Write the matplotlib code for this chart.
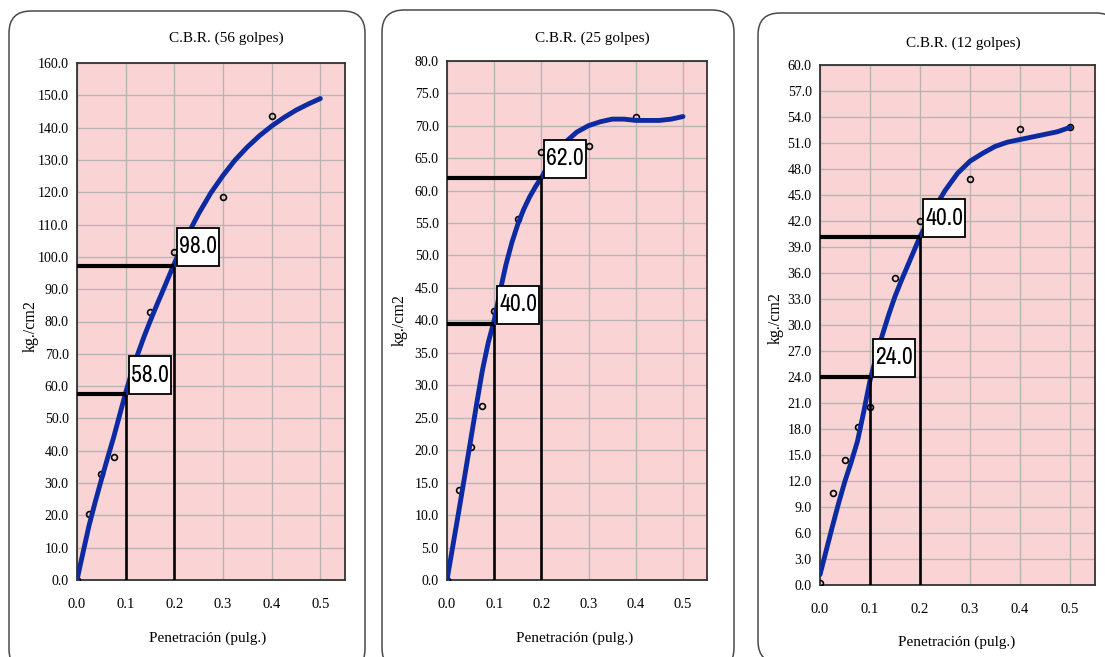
import matplotlib
matplotlib.use("Agg")
import matplotlib.pyplot as plt
from matplotlib.patches import FancyBboxPatch
from matplotlib.path import Path

# ---------------- data ----------------
titles = ["C.B.R. (56 golpes)", "C.B.R. (25 golpes)", "C.B.R. (12 golpes)"]
x_label = "Penetración (pulg.)"
y_label = "kg./cm2"

x_ticks = [0.0, 0.1, 0.2, 0.3, 0.4, 0.5]
y_ticks_56 = [0, 10, 20, 30, 40, 50, 60, 70, 80, 90, 100, 110, 120, 130, 140, 150, 160]
y_ticks_25 = [0, 5, 10, 15, 20, 25, 30, 35, 40, 45, 50, 55, 60, 65, 70, 75, 80]
y_ticks_12 = [0, 3, 6, 9, 12, 15, 18, 21, 24, 27, 30, 33, 36, 39, 42, 45, 48, 51, 54, 57, 60]

# measured points
pts_x_56 = [0.0, 0.025, 0.05, 0.075, 0.15, 0.2, 0.3, 0.4]
pts_y_56 = [0.0, 20.3, 32.8, 38.0, 83.0, 101.6, 118.6, 143.7]
pts_x_25 = [0.0, 0.025, 0.05, 0.075, 0.1, 0.15, 0.2, 0.3, 0.4]
pts_y_25 = [0.0, 13.8, 20.5, 26.8, 41.5, 55.6, 66.0, 66.9, 71.3]
pts_x_12 = [0.0, 0.025, 0.05, 0.075, 0.1, 0.15, 0.2, 0.3, 0.4, 0.5]
pts_y_12 = [0.2, 10.6, 14.4, 18.2, 20.5, 35.4, 42.0, 46.8, 52.6, 52.8]

# fitted curves
curve_x = [0.0, 0.0125, 0.025, 0.0375, 0.05, 0.0625, 0.075, 0.0875, 0.1, 0.1125,
           0.125, 0.1375, 0.15, 0.1625, 0.175, 0.1875, 0.2, 0.2125, 0.225, 0.2375,
           0.25, 0.275, 0.3, 0.325, 0.35, 0.375, 0.4, 0.425, 0.45, 0.475, 0.5]
curve_y_56 = [0.0, 8.6, 17.0, 24.2, 31.0, 37.6, 44.0, 51.0, 58.0, 64.3,
              70.0, 75.2, 80.0, 84.6, 89.0, 93.5, 98.0, 102.1, 106.0, 109.8,
              113.4, 119.8, 125.2, 130.0, 134.0, 137.5, 140.5, 143.1, 145.4, 147.3, 149.0]
curve_y_25 = [0.0, 5.3, 10.6, 16.0, 21.5, 27.0, 32.3, 36.6, 40.0, 44.5,
              48.6, 52.0, 54.8, 57.1, 59.0, 60.6, 62.0, 63.6, 65.0, 66.3,
              67.4, 69.0, 70.0, 70.6, 71.0, 71.0, 70.8, 70.8, 70.8, 71.0, 71.4]
curve_y_12 = [1.2, 4.0, 6.8, 9.5, 12.0, 14.2, 16.6, 20.0, 23.6, 26.4,
              28.9, 31.2, 33.3, 35.1, 36.8, 38.5, 40.2, 41.6, 43.0, 44.3,
              45.5, 47.5, 48.9, 49.8, 50.6, 51.1, 51.4, 51.7, 52.0, 52.3, 52.8]

# CBR readings
cbr_x = [0.1, 0.2]
cbr_56 = [57.5, 97.3]
cbr_25 = [39.5, 62.0]
cbr_12 = [24.0, 40.1]
labels_56 = ["58.0", "98.0"]
labels_25 = ["40.0", "62.0"]
labels_12 = ["24.0", "40.0"]

# ---------------- style ----------------
W, H = 1105, 657
fig = plt.figure(figsize=(W / 100, H / 100), dpi=100)
fig.patch.set_facecolor("white")

serif = ["Liberation Serif", "DejaVu Serif"]
narrow = ["Archivo Narrow", "Liberation Sans", "DejaVu Sans"]
PINK = "#fad4d4"
GRID = "#b9b4b4"
BLUE = "#0c2ba3"

PADX, PADY = 2.0, 8.5  # pixels


def tall_box(x0, y0, width, height, mutation_size):
    x0 -= PADX
    x1 = x0 + width + 2 * PADX
    y0 -= PADY
    y1 = y0 + height + 2 * PADY
    return Path([(x0, y0), (x1, y0), (x1, y1), (x0, y1), (x0, y0)],
                [Path.MOVETO, Path.LINETO, Path.LINETO, Path.LINETO, Path.CLOSEPOLY])


bg = fig.add_axes([0, 0, 1, 1], zorder=-10)
bg.set_xlim(0, W)
bg.set_ylim(H, 0)
bg.axis("off")
boxes = [(9, 11, 356, 660), (382, 10, 352, 660), (758, 13, 360, 650)]
for (bx, by, bw, bh) in boxes:
    bg.add_patch(FancyBboxPatch((bx + 22, by + 22), bw - 44, bh - 44,
                                boxstyle="round,pad=22", fc="white",
                                ec="#4a4a4a", lw=1.1))

panels = [
    dict(rect=[77, 63, 344.7, 580], ylim=160, yt=y_ticks_56, px=pts_x_56, py=pts_y_56,
         cy=curve_y_56, cbr=cbr_56, lab=labels_56, title=titles[0], tx=226, ty=38,
         xlx=208, xly=638, ylx=31, yly=326),
    dict(rect=[447, 60.7, 706.6, 580], ylim=80, yt=y_ticks_25, px=pts_x_25, py=pts_y_25,
         cy=curve_y_25, cbr=cbr_25, lab=labels_25, title=titles[1], tx=592, ty=38,
         xlx=575, xly=638, ylx=400, yly=320),
    dict(rect=[820, 65, 1095, 585], ylim=60, yt=y_ticks_12, px=pts_x_12, py=pts_y_12,
         cy=curve_y_12, cbr=cbr_12, lab=labels_12, title=titles[2], tx=963, ty=43,
         xlx=957, xly=642, ylx=776, yly=318),
]

for p in panels:
    l, t, r, b = p["rect"]
    ax = fig.add_axes([l / W, (H - b) / H, (r - l) / W, (b - t) / H])
    ax.set_facecolor(PINK)
    ax.set_xlim(0, 0.55)
    ax.set_ylim(0, p["ylim"])
    ax.set_xticks(x_ticks)
    ax.set_yticks(p["yt"])
    ax.set_xticklabels([f"{v:.1f}" for v in x_ticks], family=serif, fontsize=10.5)
    ax.set_yticklabels([f"{v:.1f}" for v in p["yt"]], family=serif, fontsize=10)
    ax.tick_params(axis="x", length=0, pad=13)
    ax.tick_params(axis="y", length=0, pad=6)
    ax.grid(True, color=GRID, lw=1.0)
    ax.set_axisbelow(True)
    for s in ax.spines.values():
        s.set_color("#333333")
        s.set_linewidth(1.3)

    ax.plot(p["px"], p["py"], linestyle="none", marker="o", ms=4.2, mfc="none",
            mec="black", mew=1.2, zorder=3)
    ax.plot(curve_x, p["cy"], color=BLUE, lw=3.5, solid_capstyle="round",
            solid_joinstyle="round", zorder=4)

    for xv, yv, lab in zip(cbr_x, p["cbr"], p["lab"]):
        ax.plot([0, xv], [yv, yv], color="black", lw=3.0, zorder=5, solid_capstyle="butt")
        ax.plot([xv, xv], [0, yv], color="black", lw=1.9, zorder=5, solid_capstyle="butt")
        ax.annotate(lab, xy=(xv, yv), xytext=(3 + PADX, PADY), textcoords="offset pixels",
                    ha="left", va="bottom", fontsize=17, family=narrow,
                    bbox=dict(boxstyle=tall_box, fc="white", ec="black", lw=1.3),
                    zorder=6)

    fig.text(p["tx"] / W, 1 - p["ty"] / H, p["title"], ha="center", va="center",
             family=serif, fontsize=11)
    fig.text(p["xlx"] / W, 1 - p["xly"] / H, x_label, ha="center", va="center",
             family=serif, fontsize=11)
    fig.text(p["ylx"] / W, 1 - p["yly"] / H, y_label, ha="center", va="center",
             rotation=90, family=serif, fontsize=11.5)

fig.savefig("out.png", dpi=100)
